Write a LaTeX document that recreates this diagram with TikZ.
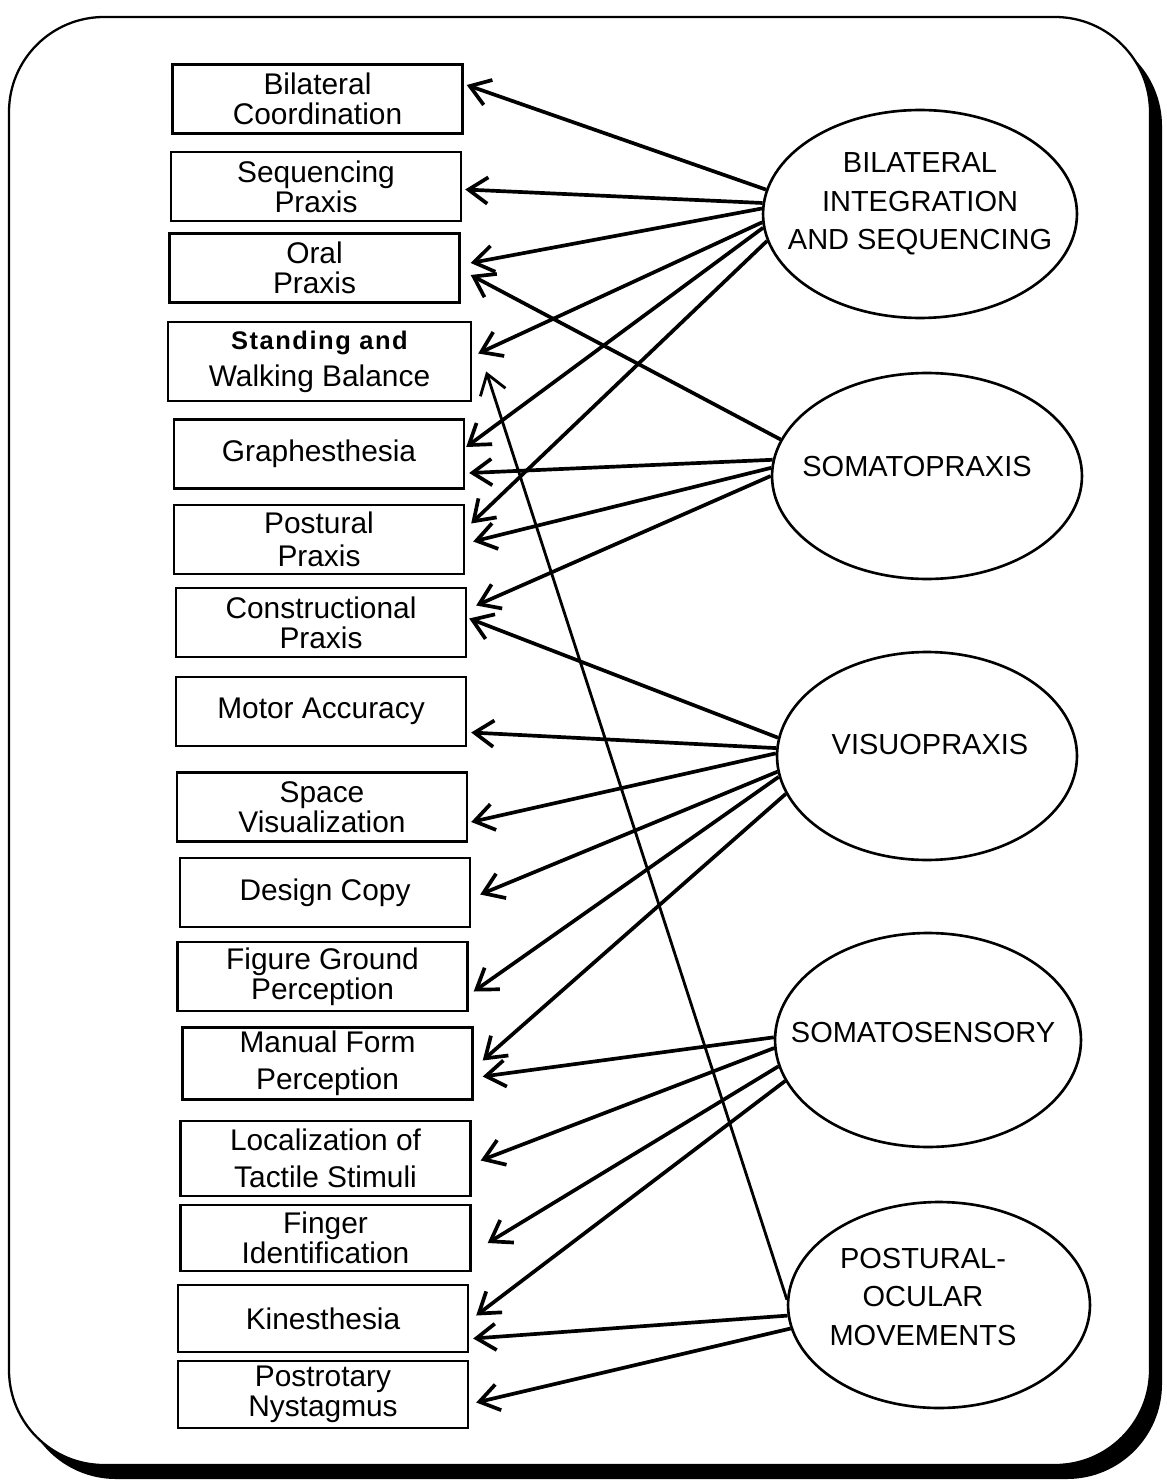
\documentclass[tikz,border=0pt]{standalone}
\usepackage{fontspec}
\setmainfont{Liberation Sans}
\usetikzlibrary{calc}
\usetikzlibrary{arrows.meta}
\usetikzlibrary{shapes.geometric}
\tikzstyle{skill}=[draw,line width=1.4pt,minimum width=5.8cm,minimum height=1.38cm,align=center,inner sep=2pt,font=\fontsize{17}{17}\selectfont]
\tikzstyle{factor}=[draw,ellipse,line width=1.5pt,inner sep=0pt]
\tikzstyle{factorname}=[align=center,inner sep=0pt,font=\fontsize{16.5}{22}\selectfont]
\tikzstyle{loading}=[-{Straight Barb[length=11pt,width=15pt]},line width=2.1pt]
\tikzstyle{longloading}=[-{Straight Barb[length=11pt,width=15pt]},line width=1.6pt]

\begin{document}
\begin{tikzpicture}[x=0.02cm,y=-0.02cm]
  \useasboundingbox (0,0) rectangle (1166,1483);
  % frame and its shadow
  \fill[rounded corners=1.9cm] (21,31) rectangle (1162,1479);
  \filldraw[fill=white,line width=1.3pt,rounded corners=1.9cm] (9,17) rectangle (1150,1465);

  % test boxes
  \node[skill] (bc) at (317.5,99) {Bilateral\\Coordination};
  \node[skill] (sp) at (316,186.5) {Sequencing\\Praxis};
  \node[skill] (op) at (314.5,268) {Oral\\Praxis};
  \node[skill,minimum width=6.06cm,minimum height=1.58cm] (swb) at (319.5,361.5)
    {{\bfseries\fontsize{14.5}{17}\selectfont\addfontfeature{LetterSpace=6}Standing and}\\[4pt]Walking Balance};
  \node[skill] (gr) at (319,454) {Graphesthesia};
  \node[skill] (pp) at (319,539.5) {Postural\\[2pt]Praxis};
  \node[skill] (cp) at (321,622.5) {Constructional\\Praxis};
  \node[skill] (ma) at (321,711.5) {Motor Accuracy};
  \node[skill] (sv) at (322,807) {Space\\Visualization};
  \node[skill] (dc) at (325,892.5) {Design Copy};
  \node[skill] (fg) at (322.5,976.5) {Figure Ground\\Perception};
  \node[skill,minimum height=1.42cm] (mf) at (327.5,1063.5) {Manual Form\\[4pt]Perception};
  \node[skill,minimum height=1.5cm] (lt) at (325.5,1158.5) {Localization of\\[4pt]Tactile Stimuli};
  \node[skill,minimum height=1.32cm] (fi) at (325.5,1238) {Finger\\Identification};
  \node[skill,minimum height=1.34cm] (ki) at (323,1318.5) {Kinesthesia};
  \node[skill,minimum height=1.34cm] (pn) at (323,1394.5) {Postrotary\\Nystagmus};

  % factors
  \node[factor,minimum width=6.28cm,minimum height=4.16cm] (bis) at (920,214) {};
  \node[factorname] (bistext) at (920,204) {BILATERAL\\INTEGRATION\\AND SEQUENCING};
  \node[factor,minimum width=6.2cm,minimum height=4.12cm] (som) at (927,476) {};
  \node[factorname] (somtext) at (917,467) {SOMATOPRAXIS};
  \node[factor,minimum width=6.0cm,minimum height=4.16cm] (vis) at (927,756) {};
  \node[factorname] (vistext) at (930,745) {VISUOPRAXIS};
  \node[factor,minimum width=6.12cm,minimum height=4.28cm] (sen) at (928,1040) {};
  \node[factorname] (sentext) at (923,1033) {SOMATOSENSORY};
  \node[factor,minimum width=6.04cm,minimum height=4.12cm] (poc) at (939,1305) {};
  \node[factorname] (poctext) at (923,1297) {POSTURAL-\\OCULAR\\MOVEMENTS};

  % bilateral integration and sequencing
  \draw[loading] (bis.171) -- ($(bc.east)+(3,-14)$);
  \draw[loading] (bis.176) -- ($(sp.east)+(3,3)$);
  \draw[loading] (bis.178.5) -- ($(op.east)+(10,-5)$);
  \draw[loading] (bis.183) -- ($(swb.east)+(6,-8)$);
  \draw[loading] (bis.185) -- ($(gr.east)+(1,-7)$);
  \draw[loading] (bis.190) -- ($(pp.east)+(6,-16)$);
  % somatopraxis
  \draw[loading] (som.166) -- ($(op.east)+(10,7)$);
  \draw[loading] (som.174) -- ($(gr.east)+(4,19)$);
  \draw[loading] (som.177) -- ($(pp.east)+(8,2)$);
  \draw[loading] (som.180.5) -- ($(cp.east)+(9,-17)$);
  % visuopraxis
  \draw[loading] (vis.173.5) -- ($(cp.east)+(2,-4)$);
  \draw[loading] (vis.177.5) -- ($(ma.east)+(4,21)$);
  \draw[loading] (vis.179) -- ($(sv.east)+(3,15)$);
  \draw[loading] (vis.186) -- ($(dc.east)+(9,2)$);
  \draw[loading] (vis.188) -- ($(fg.east)+(5,15)$);
  \draw[loading] (vis.195.5) -- ($(mf.east)+(9,-3)$);
  % somatosensory
  \draw[loading] (sen.179.3) -- ($(mf.east)+(9,13)$);
  \draw[loading] (sen.183.5) -- ($(lt.east)+(9,2)$);
  \draw[loading] (sen.190.5) -- ($(fi.east)+(16,5)$);
  \draw[loading] (sen.196.5) -- ($(ki.east)+(7,-3)$);
  % postural-ocular movements
  \draw[longloading] (poc.178) -- ($(swb.east)+(14,10)$);
  \draw[loading] (poc.184.5) -- ($(ki.east)+(4,20)$);
  \draw[loading] (poc.189.5) -- ($(pn.east)+(7,8)$);
\end{tikzpicture}
\end{document}
